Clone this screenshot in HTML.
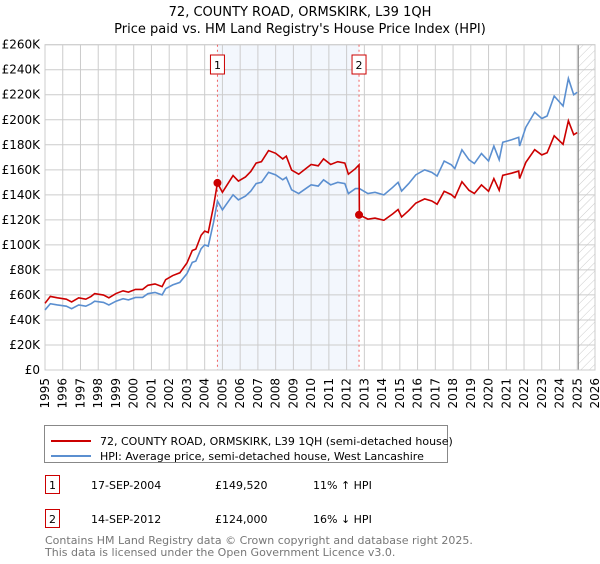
<!DOCTYPE html>
<html><head><meta charset="utf-8">
<style>
body{margin:0;background:#fff;font-family:"DejaVu Sans","Liberation Sans",sans-serif;}
svg text{font-family:"DejaVu Sans","Liberation Sans",sans-serif;}
</style></head>
<body>
<svg id="chart" width="600" height="560" xmlns="http://www.w3.org/2000/svg">
<defs>
<pattern id="hatch" patternUnits="userSpaceOnUse" width="6" height="6" patternTransform="rotate(45)">
<line x1="0" y1="0" x2="0" y2="6" stroke="#ccc" stroke-width="1"/>
</pattern>
</defs>
<text x="300" y="16" text-anchor="middle" font-size="13">72, COUNTY ROAD, ORMSKIRK, L39 1QH</text>
<text x="300" y="33" text-anchor="middle" font-size="13">Price paid vs. HM Land Registry's House Price Index (HPI)</text>
<g id="grid"></g>
<g id="marks"></g>
<g id="axes"></g>
<g>
<rect x="44.5" y="425.5" width="403" height="37" fill="#fff" stroke="#888"/>
<line x1="51" y1="441" x2="91" y2="441" stroke="#cc0000" stroke-width="2"/>
<text x="100" y="445" font-size="11">72, COUNTY ROAD, ORMSKIRK, L39 1QH (semi-detached house)</text>
<line x1="51" y1="461" x2="91" y2="461" stroke="#5b8fd0" stroke-width="2" transform="translate(0,-5)"/>
<text x="100" y="460" font-size="11">HPI: Average price, semi-detached house, West Lancashire</text>
</g>
<g font-size="11">
<rect x="45.5" y="475.5" width="14" height="18" fill="#fff" stroke="#cc0000"/>
<text x="52.5" y="489" text-anchor="middle">1</text>
<text x="91" y="489">17-SEP-2004</text>
<text x="215" y="489">£149,520</text>
<text x="313" y="489">11% ↑ HPI</text>
<rect x="45.5" y="509.5" width="14" height="18" fill="#fff" stroke="#cc0000"/>
<text x="52.5" y="523" text-anchor="middle">2</text>
<text x="91" y="523">14-SEP-2012</text>
<text x="215" y="523">£124,000</text>
<text x="313" y="523">16% ↓ HPI</text>
</g>
<text x="45" y="544" font-size="11" fill="#777">Contains HM Land Registry data © Crown copyright and database right 2025.</text>
<text x="45" y="556" font-size="11" fill="#777">This data is licensed under the Open Government Licence v3.0.</text>
</svg>
<script>
const hpiDates=[1995.0,1995.3,1995.7,1996.2,1996.5,1996.9,1997.3,1997.6,1997.8,1998.3,1998.6,1999.0,1999.4,1999.7,2000.1,2000.5,2000.8,2001.2,2001.6,2001.8,2002.2,2002.6,2003.0,2003.3,2003.5,2003.8,2004.0,2004.2,2004.5,2004.72,2005.0,2005.2,2005.6,2005.9,2006.3,2006.6,2006.9,2007.2,2007.6,2008.0,2008.4,2008.6,2008.9,2009.3,2009.7,2010.0,2010.4,2010.7,2011.1,2011.5,2011.9,2012.1,2012.5,2012.72,2013.2,2013.6,2014.1,2014.6,2014.9,2015.1,2015.5,2015.9,2016.4,2016.8,2017.1,2017.5,2017.9,2018.1,2018.5,2018.9,2019.2,2019.6,2020.0,2020.3,2020.6,2020.8,2021.3,2021.7,2021.75,2022.1,2022.6,2023.0,2023.3,2023.7,2024.2,2024.5,2024.8,2025.0];
const hpiValues=[48,53,52,51,49,52,51,53,55,54,52,55,57,56,58,58,61,62,60,65,68,70,77,86,87,97,100,99,118,135,128,132,140,136,139,143,149,150,158,156,152,154,144,141,145,148,147,152,148,150,149,141,145,145,141,142,140,146,150,143,149,156,160,158,155,167,164,161,176,168,165,173,167,179,168,182,184,186,179,194,206,201,203,219,211,233,220,222];
const priceDates=[1995.0,1995.3,1995.7,1996.2,1996.5,1996.9,1997.3,1997.6,1997.8,1998.3,1998.6,1999.0,1999.4,1999.7,2000.1,2000.5,2000.8,2001.2,2001.6,2001.8,2002.2,2002.6,2003.0,2003.3,2003.5,2003.8,2004.0,2004.2,2004.5,2004.72,2005.0,2005.2,2005.6,2005.9,2006.3,2006.6,2006.9,2007.2,2007.6,2008.0,2008.4,2008.6,2008.9,2009.3,2009.7,2010.0,2010.4,2010.7,2011.1,2011.5,2011.9,2012.1,2012.5,2012.70,2012.72,2013.2,2013.6,2014.1,2014.6,2014.9,2015.1,2015.5,2015.9,2016.4,2016.8,2017.1,2017.5,2017.9,2018.1,2018.5,2018.9,2019.2,2019.6,2020.0,2020.3,2020.6,2020.8,2021.3,2021.7,2021.75,2022.1,2022.6,2023.0,2023.3,2023.7,2024.2,2024.5,2024.8,2025.0];
const priceValues=[53.3,58.8,57.7,56.6,54.4,57.7,56.6,58.8,61.1,59.9,57.7,61.1,63.3,62.2,64.4,64.4,67.7,68.8,66.6,72.2,75.5,77.7,85.5,95.5,96.6,107.7,111,109.9,131,149.5,142,146.5,155.4,151,154.3,158.7,165.4,166.5,175.4,173.2,168.7,170.9,159.8,156.5,161,164.3,163.2,168.7,164.3,166.5,165.4,156.5,161,164,124,120.6,121.4,119.7,124.8,128.3,122.3,127.4,133.4,136.8,135.1,132.5,142.8,140.2,137.7,150.5,143.6,141.1,147.9,142.8,153,143.6,155.6,157.3,159,153,165.9,176.1,171.9,173.6,187.2,180.4,199.2,188.1,189.8];
const saleDates=[2004.72,2012.70];
const saleValues=[149.52,124];
const saleLabels=["1","2"];
const yTicks=[0,20,40,60,80,100,120,140,160,180,200,220,240,260];
const xTicks=[1995,1996,1997,1998,1999,2000,2001,2002,2003,2004,2005,2006,2007,2008,2009,2010,2011,2012,2013,2014,2015,2016,2017,2018,2019,2020,2021,2022,2023,2024,2025,2026];
const dataEnd=2025.06;

const L=45,R=595,T=44.7,B=370;
const x=v=>L+(v-1995)/(2026-1995)*(R-L);
const y=v=>B-v/260*(B-T);
const NS="http://www.w3.org/2000/svg";
function mk(tag,attrs,parent){const e=document.createElementNS(NS,tag);for(const k in attrs)e.setAttribute(k,attrs[k]);parent.appendChild(e);return e;}
const grid=document.getElementById('grid'),marks=document.getElementById('marks'),axes=document.getElementById('axes');

let r=mk('rect',{x:x(saleDates[0]),y:T,width:x(saleDates[1])-x(saleDates[0]),height:B-T,fill:'#eef3fc',opacity:0.7},grid);


let h=mk('rect',{x:x(dataEnd),y:T,width:R-x(dataEnd),height:B-T,fill:'url(#hatch)'},grid);


yTicks.forEach(t=>{
  const l=mk('line',{x1:L,x2:R,y1:y(t),y2:y(t),stroke:'#ccc','stroke-width':1},grid);
  
  
  const tx=mk('text',{x:L-5,y:y(t)+4,'text-anchor':'end','font-size':12},axes);
  tx.textContent=t===0?'£0':'£'+t+'K';
  
  
});
xTicks.forEach(t=>{
  const l=mk('line',{x1:x(t),x2:x(t),y1:T,y2:B,stroke:'#ccc','stroke-width':1},grid);
  
  
  const tx=mk('text',{x:0,y:0,'text-anchor':'end','font-size':12,transform:`translate(${x(t)+4},${B+8}) rotate(-90)`},axes);
  tx.textContent=t;
  
  
});
let el=mk('line',{x1:x(dataEnd),x2:x(dataEnd),y1:T,y2:B,stroke:'#888','stroke-width':1},grid);


let fr=mk('rect',{x:L,y:T,width:R-L,height:B-T,fill:'none',stroke:'#ccc'},grid);



saleDates.forEach((d,i)=>{
  const l=mk('line',{x1:x(d),x2:x(d),y1:T,y2:B,stroke:'#f06060','stroke-width':1,'stroke-dasharray':'2,3'},marks);
  
  
  const b=mk('rect',{x:x(d)-7,y:55,width:14,height:19,fill:'#fff',stroke:'#cc0000'},marks);
  
  
  const t=mk('text',{x:x(d),y:69,'text-anchor':'middle','font-size':11},marks);
  t.textContent=saleLabels[i];
  
  
});
const hp=mk('polyline',{points:hpiDates.map((d,i)=>x(d)+','+y(hpiValues[i])).join(' '),fill:'none',stroke:'#5b8fd0','stroke-width':1.6},marks);


const pp=mk('polyline',{points:priceDates.map((d,i)=>x(d)+','+y(priceValues[i])).join(' '),fill:'none',stroke:'#cc0000','stroke-width':1.6},marks);


saleDates.forEach((d,i)=>{
  const c=mk('circle',{cx:x(d),cy:y(saleValues[i]),r:4,fill:'#cc0000'},marks);
  
  
});
</script>
</body></html>
